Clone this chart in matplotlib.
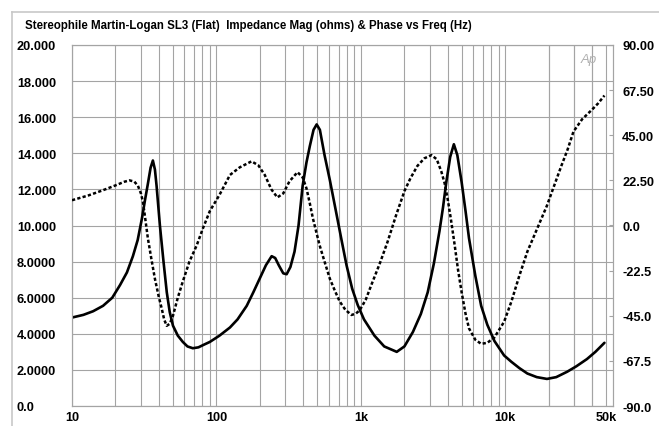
import numpy as np
import matplotlib.pyplot as plt
from matplotlib.ticker import FixedLocator, NullFormatter
from matplotlib.lines import Line2D

plt.rcParams['font.family'] = ['Liberation Sans', 'DejaVu Sans']

# Impedance magnitude (ohms) vs frequency (Hz)
mag_freq = [10, 12, 14, 16.4, 19, 21.5, 24, 26.4, 28.5, 30.5, 32, 33.5, 35, 36.3, 37.5, 38.5,
            40.6, 43, 45.3, 47.5, 50, 54, 58.5, 63, 68.6, 75, 82, 90, 105, 124, 140, 162, 180,
            199, 220, 241, 255, 270, 290, 306, 325, 347, 370, 395, 420, 443, 470, 494, 520,
            560, 610, 660, 730, 795, 870, 950, 1050, 1240, 1450, 1770, 2000, 2290, 2600,
            2900, 3200, 3500, 3700, 3900, 4150, 4400, 4650, 4980, 5300, 5600, 6200, 6800,
            7500, 8400, 9800, 11000, 12500, 14200, 16500, 19400, 22500, 26800, 31000,
            36700, 42000, 48500]
mag_ohms = [4.9, 5.05, 5.25, 5.55, 6.0, 6.7, 7.4, 8.3, 9.2, 10.4, 11.4, 12.3, 13.2, 13.6, 13.1, 12.2,
            10.0, 8.0, 6.3, 5.2, 4.45, 3.9, 3.55, 3.3, 3.2, 3.25, 3.4, 3.55, 3.9, 4.35, 4.8, 5.55, 6.3,
            7.05, 7.8, 8.3, 8.2, 7.8, 7.35, 7.3, 7.7, 8.55, 10.0, 12.2, 13.5, 14.4, 15.3, 15.6, 15.3,
            13.9, 12.5, 11.1, 9.3, 7.8, 6.5, 5.6, 4.8, 3.9, 3.3, 3.0, 3.3, 4.1, 5.1,
            6.3, 7.9, 9.7, 11.0, 12.4, 13.8, 14.5, 13.9, 12.4, 10.8, 9.3, 7.2, 5.55,
            4.5, 3.6, 2.8, 2.45, 2.1, 1.8, 1.6, 1.5, 1.6, 1.9, 2.2,
            2.6, 3.0, 3.5]

# Impedance phase (degrees) vs frequency (Hz)
ph_freq = [10, 13, 16.4, 20, 23, 25, 27, 28.6, 30, 31, 32.2, 33.5, 35.5, 37.5, 40, 41.8, 43.5,
           45.3, 47.5, 50, 54, 58.5, 65, 73, 81, 90, 105, 124, 145, 175, 195, 216, 240, 264,
           290, 320, 364, 395, 420, 443, 465, 490, 518, 560, 610, 660, 712, 780, 860, 920,
           980, 1080, 1180, 1350, 1530, 1750, 2000, 2200, 2460, 2750, 3080, 3350, 3600, 3800,
           3980, 4200, 4460, 4700, 4980, 5300, 5600, 6200, 6800, 7500, 8400, 9800, 11000,
           12500, 14200, 16500, 19400, 21800, 24400, 27000, 29600, 34000, 39600, 44000, 48500]
ph_deg = [12.6, 15, 17.6, 20, 21.8, 22.5, 21.9, 19.8, 16, 11.7, 3, -6.3, -17, -26.6, -36, -41.4, -47,
          -50, -49, -45, -36, -27.9, -18, -9.9, -1, 7.2, 15.3, 25.2, 29, 32, 30, 25.2, 18, 14,
          16, 22, 26.6, 24, 18.5, 11, 3.6, -3, -9.9, -18, -26.6, -32.5, -37.8, -42, -44.6, -44,
          -42.3, -37, -29.7, -19, -8.1, 5, 17.1, 23.5, 29.7, 33.5, 35.1, 33, 27, 21,
          13.5, 3, -9.9, -22, -33.3, -44, -51.3, -57, -59, -58.5, -55.8, -48, -38,
          -25, -13, -2, 9.9, 20, 29.7, 38, 46.8, 53, 57.6, 61, 64.8]

left_ticks = [0, 2, 4, 6, 8, 10, 12, 14, 16, 18, 20]
left_labels = ['0.0', '2.0000', '4.0000', '6.0000', '8.0000', '10.000', '12.000',
               '14.000', '16.000', '18.000', '20.000']
right_ticks = [-90, -67.5, -45, -22.5, 0, 22.5, 45, 67.5, 90]
right_labels = ['-90.0', '-67.5', '-45.0', '-22.5', '0.0', '22.50', '45.00', '67.50', '90.00']
x_ticks = [10, 100, 1000, 10000, 50000]
x_labels = ['10', '100', '1k', '10k', '50k']

W, H = 659, 427
fig = plt.figure(figsize=(W / 100, H / 100), dpi=100)
ax = fig.add_axes([72 / W, 20 / H, 541 / W, 361 / H])
ax2 = ax.twinx()

grid_c = '#a4a4a4'
fs = 9.2
ax.set_xscale('log')
ax.set_xlim(10, 55600)
ax.set_ylim(0, 20)
ax2.set_ylim(-90, 90)

minor = [m * 10 ** e for e in range(1, 5) for m in range(2, 10)] + [20000, 30000, 40000, 50000]
ax.xaxis.set_minor_locator(FixedLocator(minor))
ax.xaxis.set_minor_formatter(NullFormatter())
ax.set_xticks(x_ticks, x_labels)
ax.grid(True, which='both', axis='x', color=grid_c, lw=0.8)
ax.grid(True, which='major', axis='y', color=grid_c, lw=0.8)
ax.set_axisbelow(True)

ax.set_yticks(left_ticks, left_labels)
for lab in ax.get_yticklabels():
    lab.set_horizontalalignment('left')
ax.tick_params(axis='y', length=0, pad=39.6, labelsize=fs)
ax.tick_params(axis='x', which='both', length=0, pad=3.5, labelsize=fs)
for lab in ax.get_xticklabels() + ax.get_yticklabels():
    lab.set_fontweight('bold')

ax2.set_yticks(right_ticks, right_labels)
ax2.tick_params(axis='y', direction='in', length=3, color=grid_c, pad=6.5, labelsize=fs)
for lab in ax2.get_yticklabels():
    lab.set_fontweight('bold')

for a in (ax, ax2):
    for s in a.spines.values():
        s.set_color(grid_c)
        s.set_linewidth(0.8)

ax.plot(mag_freq, mag_ohms, color='black', lw=1.9, solid_joinstyle='round',
        solid_capstyle='round', zorder=3)
ax2.plot(ph_freq, ph_deg, color='black', lw=1.8, linestyle=(0, (1.3, 0.9)), zorder=3)

# outer frame of the analyzer window
fig.add_artist(Line2D([12 / W, 12 / W], [0, 1 - 13 / H], color='#c8c8c8', lw=1.2))
fig.add_artist(Line2D([12 / W, 1], [1 - 13 / H, 1 - 13 / H], color='#c8c8c8', lw=1.2))

fig.text(25 / W, 1 - 26 / H, 'Stereophile Martin-Logan SL3 (Flat)  Impedance Mag (ohms) & Phase vs Freq (Hz)',
         fontsize=8.3, fontweight='bold', va='center', ha='left')
ax.text(0.955, 0.96, 'Ap', transform=ax.transAxes, fontsize=9.5, color='#b0b0b0',
        style='italic', ha='center', va='center')

fig.savefig('out.png', dpi=100)
